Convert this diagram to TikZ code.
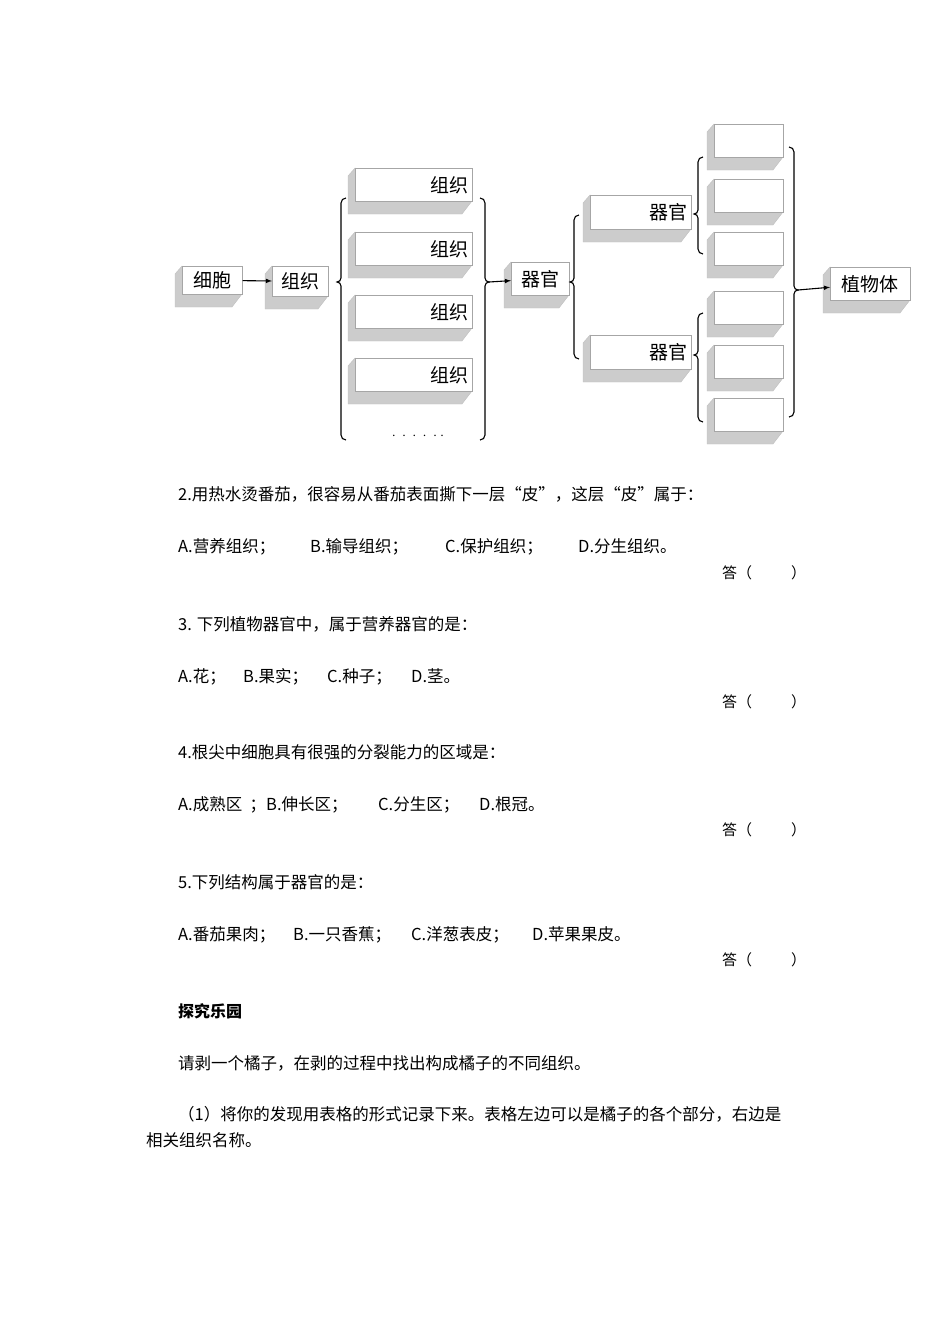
\documentclass[tikz,border=0pt]{standalone}
\usepackage{fontspec}
\setmainfont{Noto Sans CJK SC}
\usetikzlibrary{calc}
\tikzset{
  face/.style={draw=gray!70,fill=white,line width=0.6pt,inner sep=4pt,anchor=north west,font=\fontsize{19}{21}\selectfont},
  side/.style={fill=gray!40,draw=gray!50,line width=0.4pt},
  brc/.style={line width=1.1pt},
  arr/.style={line width=1.1pt,-latex},
  txt/.style={anchor=base west,inner sep=0pt,font=\fontsize{16.5}{18}\selectfont},
  ans/.style={anchor=base west,inner sep=0pt,font=\fontsize{15}{16}\selectfont}
}
\newcommand\bxx[7]{%
  \fill[side] (#2,#3) -- ++(-7,8) -- (#2-7,#3+#5+13) -- (#2+#4-10,#3+#5+13) -- (#2+#4,#3+#5) -- cycle;
  \node[face,minimum width=#4pt,minimum height=#5pt,text width=#4pt-8pt,align=#6] (#1) at (#2,#3) {#7};}
\newcommand\lbr[5]{%
  \draw[brc] (#2+5,#3) to[out=180,in=90] (#2,#3+5) -- (#2,#4-4) to[out=-90,in=0] (#2-4,#4) to[out=0,in=90] (#2,#4+4) -- (#2,#5-5) to[out=-90,in=180] (#2+5,#5);
  \coordinate (#1) at (#2-4,#4);}
\newcommand\rbr[5]{%
  \draw[brc] (#2-5,#3) to[out=0,in=90] (#2,#3+5) -- (#2,#4-4) to[out=-90,in=180] (#2+4,#4) to[out=180,in=90] (#2,#4+4) -- (#2,#5-5) to[out=-90,in=0] (#2-5,#5);
  \coordinate (#1) at (#2+4,#4);}
\begin{document}
\begin{tikzpicture}[x=1pt,y=-1pt]
\useasboundingbox (0,0) rectangle (950,1344);
% left part
\bxx{cell}{182}{266}{60}{28}{center}{细胞}
\bxx{tis}{272}{266}{56}{30}{center}{组织}
\bxx{t1}{355}{168}{117}{33}{right}{组织}
\bxx{t2}{355}{232}{117}{33}{right}{组织}
\bxx{t3}{355}{295}{117}{33}{right}{组织}
\bxx{t4}{355}{358}{117}{33}{right}{组织}
\node[font=\fontsize{14}{14}\selectfont] (dots) at (418,436) {$\cdot\ \cdot\ \cdot\ \cdot\ \cdot\ \cdot$};
\lbr{bl1}{341}{198}{282}{440}
\rbr{br1}{485}{198}{282}{440}
\draw[arr] (cell) -- (tis);
% organs
\bxx{org}{511}{262}{58}{33}{center}{器官}
\draw[arr] (br1) -- (org);
\lbr{bl2}{574}{215}{282}{359}
\bxx{o1}{590}{195}{101}{34}{right}{器官}
\bxx{o2}{590}{335}{101}{34}{right}{器官}
\lbr{bl3}{698}{157}{214}{254}
\lbr{bl4}{698}{313}{355}{422}
\bxx{e1}{714}{124}{69}{33}{center}{}
\bxx{e2}{714}{179}{69}{33}{center}{}
\bxx{e3}{714}{232}{69}{33}{center}{}
\bxx{e4}{714}{291}{69}{33}{center}{}
\bxx{e5}{714}{345}{69}{33}{center}{}
\bxx{e6}{714}{398}{69}{33}{center}{}
\rbr{br2}{794}{147}{290}{417}
\bxx{plant}{830}{267}{80}{33}{center}{植物体}
\draw[arr] (br2) -- (plant);
% questions
\node[txt] (q2) at (178,500) {2.用热水烫番茄，很容易从番茄表面撕下一层“皮”，这层“皮”属于：};
\node[txt] (q2a) at (178,552) {A.营养组织；};
\node[txt] (q2b) at (310,552) {B.输导组织；};
\node[txt] (q2c) at (445,552) {C.保护组织；};
\node[txt] (q2d) at (578,552) {D.分生组织。};
\node[ans] (a2) at (722,578) {答（\hspace{2.6em}）};
\node[txt] (q3) at (178,630) {3. 下列植物器官中，属于营养器官的是：};
\node[txt] (q3a) at (178,682) {A.花；};
\node[txt] (q3b) at (243,682) {B.果实；};
\node[txt] (q3c) at (327,682) {C.种子；};
\node[txt] (q3d) at (411,682) {D.茎。};
\node[ans] (a3) at (722,707) {答（\hspace{2.6em}）};
\node[txt] (q4) at (178,758) {4.根尖中细胞具有很强的分裂能力的区域是：};
\node[txt] (q4a) at (178,810) {A.成熟区\ \ ；B.伸长区；};
\node[txt] (q4c) at (378,810) {C.分生区；};
\node[txt] (q4d) at (479,810) {D.根冠。};
\node[ans] (a4) at (722,835) {答（\hspace{2.6em}）};
\node[txt] (q5) at (178,888) {5.下列结构属于器官的是：};
\node[txt] (q5a) at (178,940) {A.番茄果肉；};
\node[txt] (q5b) at (293,940) {B.一只香蕉；};
\node[txt] (q5c) at (411,940) {C.洋葱表皮；};
\node[txt] (q5d) at (532,940) {D.苹果果皮。};
\node[ans] (a5) at (722,965) {答（\hspace{2.6em}）};
\node[txt,font=\fontsize{16}{18}\selectfont\bfseries] (h) at (178,1017) {探究乐园};
\node[txt] (p1) at (178,1069) {请剥一个橘子，在剥的过程中找出构成橘子的不同组织。};
\node[txt] (p2) at (178,1120) {（1）将你的发现用表格的形式记录下来。表格左边可以是橘子的各个部分，右边是};
\node[txt] (p3) at (146,1146) {相关组织名称。};
\end{tikzpicture}
\end{document}
